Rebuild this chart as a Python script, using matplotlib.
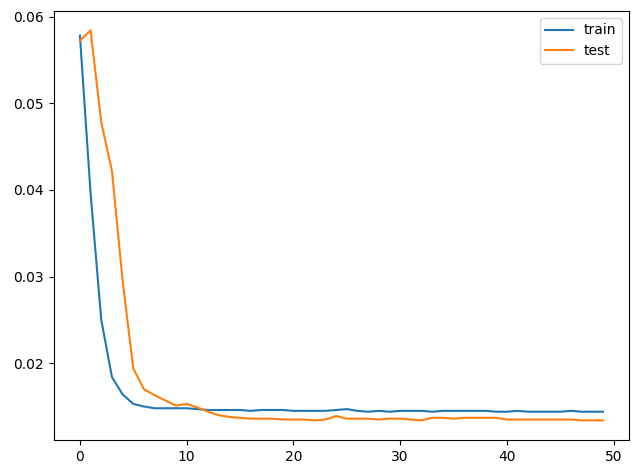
import matplotlib
matplotlib.use("Agg")
import matplotlib.pyplot as plt

epochs = list(range(50))
train = [0.0578, 0.0396, 0.0250, 0.0184, 0.0164, 0.0153, 0.0150, 0.0148, 0.0148, 0.0148,
         0.0148, 0.0147, 0.0146, 0.0146, 0.0146, 0.0146, 0.0145, 0.0146, 0.0146, 0.0146,
         0.0145, 0.0145, 0.0145, 0.0145, 0.0146, 0.0147, 0.0145, 0.0144, 0.0145, 0.0144,
         0.0145, 0.0145, 0.0145, 0.0144, 0.0145, 0.0145, 0.0145, 0.0145, 0.0145, 0.0144,
         0.0144, 0.0145, 0.0144, 0.0144, 0.0144, 0.0144, 0.0145, 0.0144, 0.0144, 0.0144]
test = [0.0572, 0.0584, 0.0478, 0.0422, 0.0295, 0.0194, 0.0170, 0.0163, 0.0157, 0.0151,
        0.0153, 0.0149, 0.0144, 0.0140, 0.0138, 0.0137, 0.0136, 0.0136, 0.0136, 0.0135,
        0.0135, 0.0135, 0.0134, 0.0135, 0.0139, 0.0136, 0.0136, 0.0136, 0.0135, 0.0136,
        0.0136, 0.0135, 0.0134, 0.0137, 0.0137, 0.0136, 0.0137, 0.0137, 0.0137, 0.0137,
        0.0135, 0.0135, 0.0135, 0.0135, 0.0135, 0.0135, 0.0135, 0.0134, 0.0134, 0.0134]

fig = plt.figure(figsize=(6.4, 4.73), dpi=100)
ax = fig.add_subplot(111)
fig.subplots_adjust(left=0.084, right=0.983, bottom=0.070, top=0.977)
ax.plot(epochs, train, label="train")
ax.plot(epochs, test, label="test")
ax.legend()
fig.savefig("out.png", dpi=100)
